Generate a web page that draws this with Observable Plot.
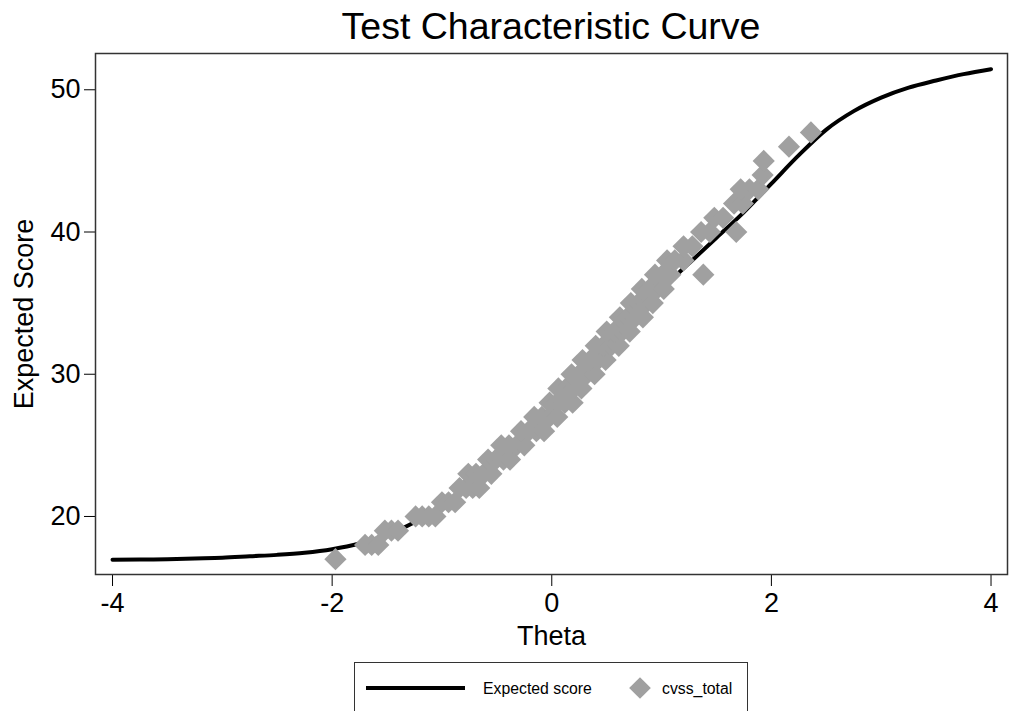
<!DOCTYPE html>
<html><head><meta charset="utf-8">
<script src="https://cdn.jsdelivr.net/npm/d3@7"></script>
<script src="https://cdn.jsdelivr.net/npm/@observablehq/plot@0.6"></script>
<style>
body{margin:0;background:#fff;font-family:"Liberation Sans",Arial,sans-serif;}
#wrap{position:relative;width:1011px;height:711px;overflow:hidden;background:#fff}
#title{position:absolute;left:0;top:0;width:1011px;text-align:center;font-size:37.5px;line-height:40px;padding-top:6px;color:#000;padding-left:91px;box-sizing:border-box}
#chart{position:absolute;left:0;top:40px}
#legend{position:absolute;left:354px;top:662px;width:394px;height:80px;border:1.5px solid #333;box-sizing:border-box}
</style>
</head><body>
<div id="wrap">
  <div id="title">Test Characteristic Curve</div>
  <div id="chart"></div>
  <div id="legend"></div>
</div>
<script>
// Expected score curve
const curveTheta = [-4,-3.75,-3.5,-3.25,-3,-2.75,-2.5,-2.25,-2,-1.75,-1.5,-1.25,-1,-0.75,-0.5,-0.25,0,0.25,0.5,0.75,1,1.25,1.5,1.75,2,2.25,2.5,2.75,3,3.25,3.5,3.75,4];
const curveScore = [16.95,16.97,17.0,17.05,17.1,17.2,17.3,17.45,17.7,18.1,18.7,19.6,20.7,22.1,23.8,25.6,27.5,29.6,31.7,33.9,36.0,37.8,39.6,41.4,43.4,45.4,47.2,48.5,49.45,50.15,50.65,51.1,51.45];

const obsTheta = [-1.97,
 -1.70,-1.64,-1.58,
 -1.52,-1.46,-1.40,
 -1.24,-1.18,-1.12,-1.06,
 -1.00,-0.94,-0.88,
 -0.84,-0.78,-0.72,-0.66,
 -0.76,-0.69,-0.62,-0.55,
 -0.58,-0.51,-0.44,-0.38,
 -0.46,-0.39,-0.32,-0.25,
 -0.28,-0.21,-0.14,-0.07,
 -0.16,-0.09,-0.02,0.05,
 -0.02,0.05,0.12,0.19,
 0.06,0.13,0.20,0.27,
 0.18,0.25,0.32,0.39,
 0.28,0.35,0.42,0.49,
 0.40,0.47,0.54,0.61,
 0.50,0.57,0.64,0.71,
 0.62,0.69,0.76,0.83,
 0.72,0.79,0.86,0.92,
 0.82,0.89,0.96,1.02,
 0.94,1.01,1.08,1.38,
 1.05,1.12,1.20,
 1.20,1.28,
 1.36,1.44,1.68,
 1.48,1.56,
 1.66,1.74,
 1.72,1.80,1.88,
 1.92,
 1.93,
 2.16,
 2.36];
const obsScore = [17,
 18,18,18,
 19,19,19,
 20,20,20,20,
 21,21,21,
 22,22,22,22,
 23,23,23,23,
 24,24,24,24,
 25,25,25,25,
 26,26,26,26,
 27,27,27,27,
 28,28,28,28,
 29,29,29,29,
 30,30,30,30,
 31,31,31,31,
 32,32,32,32,
 33,33,33,33,
 34,34,34,34,
 35,35,35,35,
 36,36,36,36,
 37,37,37,37,
 38,38,38,
 39,39,
 40,40,40,
 41,41,
 42,42,
 43,43,43,
 44,
 45,
 46,
 47];

const xTicks = [-4,-2,0,2,4];
const yTicks = [20,30,40,50];
const seriesNames = ["Expected score","cvss_total"];

const curve = curveTheta.map((t,i)=>({theta:t, score:curveScore[i]}));
const obs = obsTheta.map((t,i)=>({theta:t, score:obsScore[i]}));

const plot = Plot.plot({
  width:1011, height:615,
  marginLeft:95, marginRight:4, marginTop:13, marginBottom:81,
  style:{fontSize:"27px", fontFamily:"'Liberation Sans', Arial, sans-serif", color:"#000", background:"transparent"},
  x:{domain:[-4.155,4.15], ticks:xTicks, tickFormat:d=>String(d), tickSize:12, tickPadding:6, label:"Theta", labelAnchor:"center", labelOffset:70, labelArrow:"none"},
  y:{domain:[15.92,52.55], ticks:yTicks, tickFormat:d=>String(d), tickSize:11, tickPadding:4, label:"Expected Score", labelAnchor:"center", labelOffset:82, labelArrow:"none"},
  marks:[
    Plot.line(curve, {x:"theta", y:"score", stroke:"#000", strokeWidth:4, curve:"monotone-x"}),
    Plot.dot(obs, {x:"theta", y:"score", symbol:"diamond2", r:10, fill:"#a0a0a0", stroke:"none"}),
    Plot.frame({stroke:"#333", strokeWidth:1.5})
  ]
});
document.getElementById("chart").appendChild(plot);

// legend
const lg = d3.select("#legend").append("svg").attr("width",394).attr("height",60)
  .style("font-family","'Liberation Sans', Arial, sans-serif");
lg.append("line").attr("x1",11).attr("x2",110).attr("y1",25).attr("y2",25).attr("stroke","#000").attr("stroke-width",4);
lg.append("text").attr("x",128).attr("y",30.5).attr("font-size",15.8).text(seriesNames[0]);
lg.append("path").attr("d", d3.symbol(d3.symbolDiamond2, 300)()).attr("transform","translate(285,25)").attr("fill","#a0a0a0");
lg.append("text").attr("x",307).attr("y",30.5).attr("font-size",15.8).text(seriesNames[1]);
</script>
</body></html>
